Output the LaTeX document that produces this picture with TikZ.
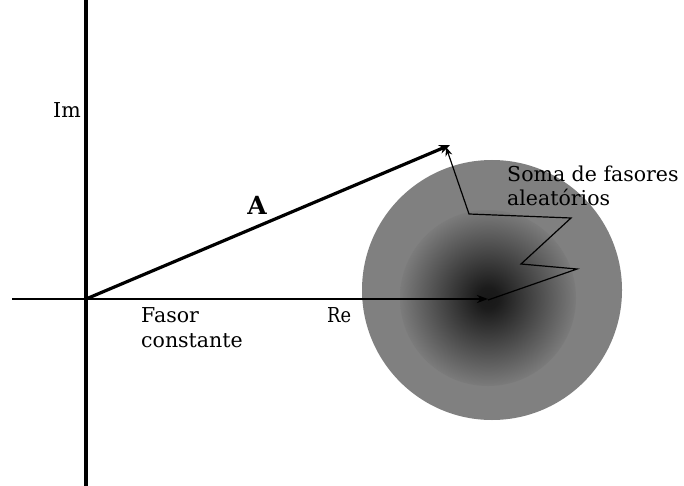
\documentclass[tikz,border=0pt]{standalone}
\usepackage{fontspec}
\setmainfont{DejaVu Serif}
\newfontfamily\condfont[FakeStretch=0.87]{DejaVu Serif}
\usetikzlibrary{arrows.meta}
\definecolor{discgray}{HTML}{808080}
\definecolor{coregray}{HTML}{181818}
\definecolor{rimgray}{HTML}{7B7B7B}
\pgfdeclareradialshading{coreshade}{\pgfpoint{0bp}{0bp}}{color(0bp)=(coregray); color(3bp)=(coregray!97!rimgray); color(25bp)=(rimgray); color(50bp)=(rimgray)}
\tikzset{
  lbl/.style={inner sep=0pt, font=\fontsize{20.5}{24.5}\selectfont},
  axisline/.style={black, line width=3.5pt},
  phasor/.style={black, line width=3.2pt, -{Stealth[length=11pt,width=9pt]}},
  realphasor/.style={black, line width=2.2pt, -{Stealth[length=11pt,width=8pt]}},
  randwalk/.style={black, line width=1.2pt, line join=miter, -{Stealth[length=9pt,width=7pt]}},
}
\begin{document}
\begin{tikzpicture}[x=1pt,y=-1pt]
\useasboundingbox (0,0) rectangle (684,486);
% disc of random sum
\coordinate (dc) at (492,290);
\coordinate (gc) at (488,298);
\fill[discgray] (dc) circle (130);
\shade[shading=coreshade] (gc) circle (88);
% axes
\coordinate (top) at (86,0);
\coordinate (bot) at (86,486);
\coordinate (O) at (86,299);
\coordinate (left) at (12,299);
\coordinate (R) at (488,299);
\draw[axisline] (top) -- (bot);
\draw[black, line width=1.2pt] (left) -- (O);
\draw[realphasor] (O) -- (R);
% resultant phasor A
\coordinate (Atip) at (450,145);
\draw[phasor] (O) -- (Atip);
% random phasor walk
\coordinate (w0) at (488,300);
\coordinate (w1) at (577,269);
\coordinate (w2) at (521,264);
\coordinate (w3) at (571,218);
\coordinate (w4) at (469,214);
\coordinate (w5) at (446,147);
\draw[randwalk] (w0) -- (w1) -- (w2) -- (w3) -- (w4) -- (w5);
% labels
\node[lbl, anchor=base west] (im) at (53,118) {Im};
\node[lbl, anchor=base west] (re) at (327,322) {\condfont Re};
\node[lbl, font=\fontsize{25}{28}\selectfont\bfseries] (a) at (257,205) {A};
\node[lbl, anchor=base west, align=left] (fc) at (141,347) {Fasor\\constante};
\node[lbl, anchor=base west, align=left] (sf) at (507,206) {Soma de fasores\\aleatórios};
\end{tikzpicture}
\end{document}
